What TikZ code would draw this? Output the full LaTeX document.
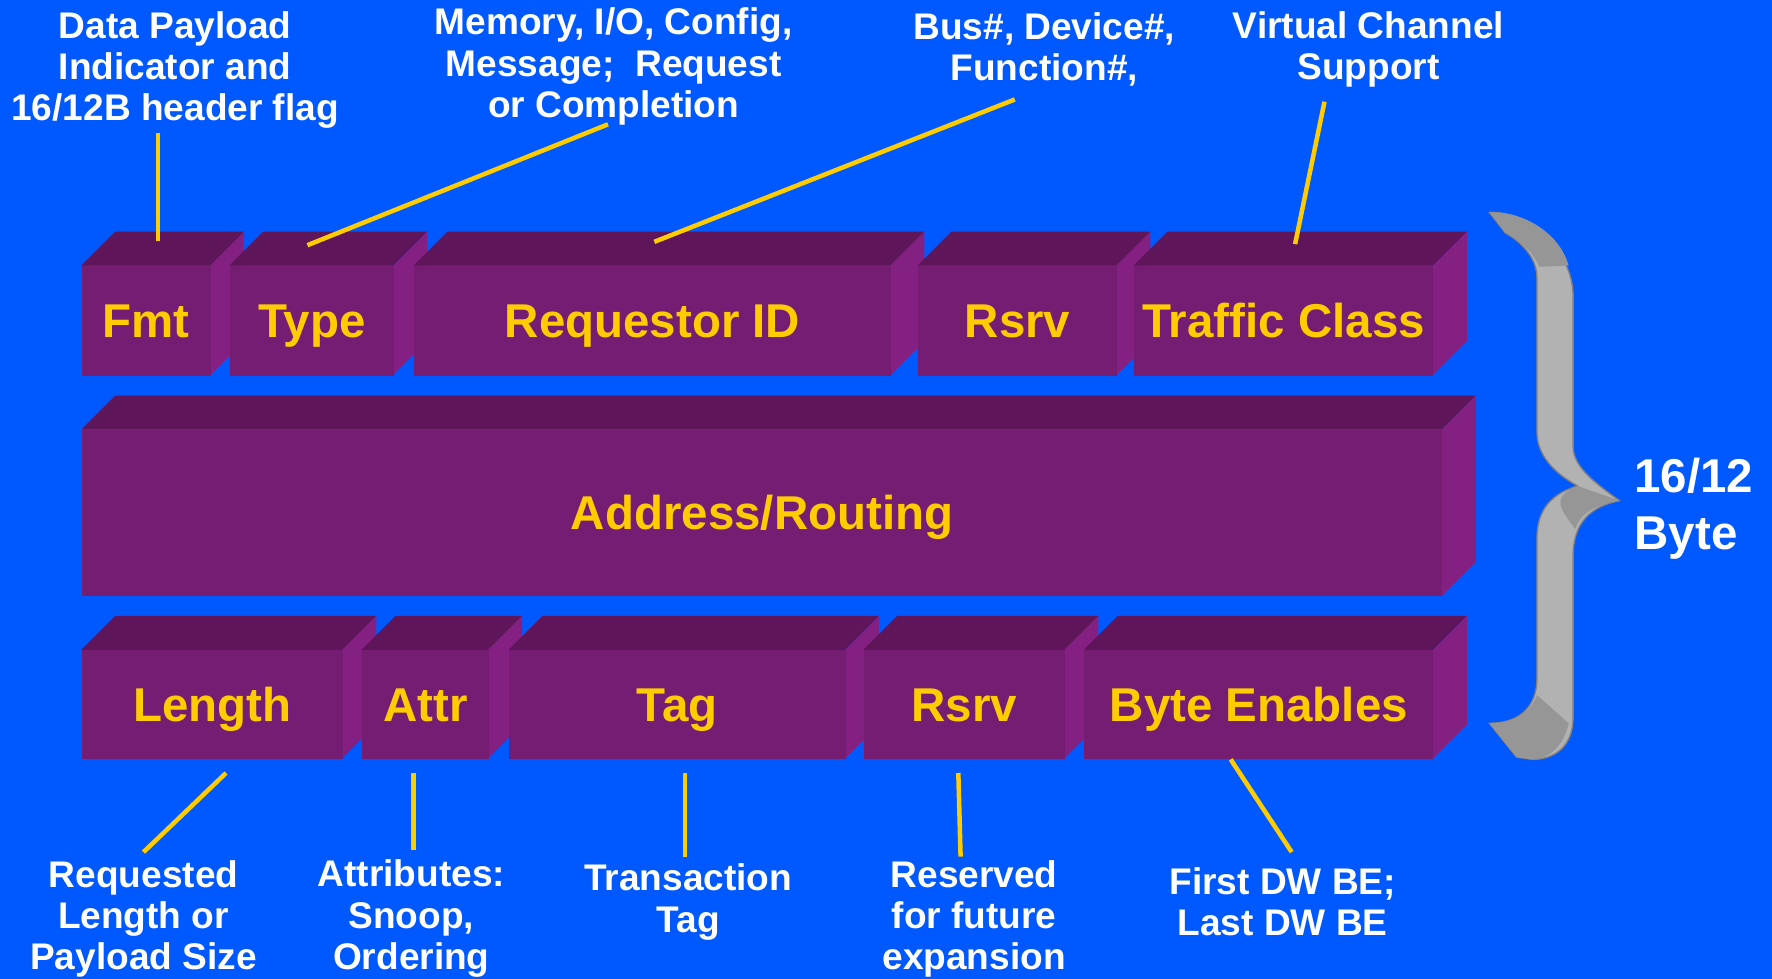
\documentclass[tikz,border=0pt]{standalone}
\usepackage{fontspec}
\setmainfont{Liberation Sans}
\definecolor{bgc}{RGB}{0,89,255}
\definecolor{frontc}{RGB}{117,29,115}
\definecolor{topc}{RGB}{94,21,90}
\definecolor{sidec}{RGB}{133,32,131}
\definecolor{txty}{RGB}{255,204,0}
\definecolor{leadc}{RGB}{255,204,0}
\definecolor{bracec}{RGB}{178,178,178}
\definecolor{braced}{RGB}{150,150,150}
\definecolor{bracee}{RGB}{128,128,128}
\newcommand\fieldfont{\bfseries\fontsize{21pt}{25pt}\selectfont}
\newcommand\lblfont{\bfseries\fontsize{16.4pt}{18.3pt}\selectfont}
\newcommand\bigfont{\bfseries\fontsize{21pt}{25.5pt}\selectfont}
% name, x1, x2, front top y, bottom y, text
\newcommand\blk[6]{%
  \fill[topc] (#2,#4) -- (#2+30,#4-30) -- (#3+30,#4-30) -- (#3,#4) -- cycle;
  \fill[sidec] (#3,#4) -- (#3+30,#4-30) -- (#3+30,#5-30) -- (#3,#5) -- cycle;
  \node[front, minimum width={(#3-#2)*0.5pt}, minimum height={(#5-#4)*0.5pt}, anchor=north west] (#1) at (#2,#4) {#6};
}
\begin{document}
\begin{tikzpicture}[x=0.5pt,y=-0.5pt,
  front/.style={fill=frontc, inner sep=0pt, text=txty, font=\fieldfont, text height=15pt, text depth=0pt},
  lbl/.style={text=white, align=center, font=\lblfont, inner sep=0pt},
  lead/.style={draw=leadc, line width=2pt},
]
\useasboundingbox (0,0) rectangle (1568,866);
\fill[bgc] (0,0) rectangle (1568,866);

% top row
\blk{fmt}{72}{186}{235}{332}{Fmt}
\blk{type}{203}{348}{235}{332}{Type}
\blk{reqid}{366}{788}{235}{332}{Requestor ID}
\blk{rsrvA}{812}{988}{235}{332}{Rsrv}
\blk{tc}{1003}{1268}{235}{332}{Traffic Class}
% middle row
\blk{addr}{72}{1276}{380}{527}{Address/Routing}
% bottom row
\blk{len}{72}{303}{575}{671}{Length}
\blk{attr}{320}{432}{575}{671}{Attr}
\blk{tag}{450}{748}{575}{671}{Tag}
\blk{rsrvB}{764}{942}{575}{671}{Rsrv}
\blk{be}{959}{1268}{575}{671}{Byte Enables}

% brace
\fill[bracec, draw=bracee, line width=0.6pt]
  (1318,188) .. controls (1345,186) and (1392,218) .. (1392,262)
  -- (1392,395) .. controls (1392,412) and (1408,425) .. (1433,443)
  .. controls (1408,448) and (1392,462) .. (1392,492)
  -- (1392,635) .. controls (1392,660) and (1376,672) .. (1356,672)
  -- (1342,670) -- (1318,640)
  .. controls (1345,640) and (1360,625) .. (1360,600)
  -- (1360,476) .. controls (1360,452) and (1372,437) .. (1396,430)
  .. controls (1374,418) and (1360,402) .. (1360,382)
  -- (1360,246) .. controls (1360,228) and (1346,214) .. (1332,206)
  -- cycle;
\fill[braced] (1318,188) .. controls (1345,186) and (1380,205) .. (1388,235)
  -- (1362,236) .. controls (1356,222) and (1345,213) .. (1332,206) -- cycle;
\fill[braced] (1396,430) -- (1433,443) .. controls (1410,447) and (1398,455) .. (1394,468)
  .. controls (1380,450) and (1372,440) .. (1396,430) -- cycle;
\fill[braced] (1318,640) .. controls (1340,640) and (1355,630) .. (1360,615)
  -- (1388,640) .. controls (1384,660) and (1370,672) .. (1356,672)
  -- (1342,670) -- cycle;

% labels
\node[lbl] (ltop1) at (155,62) {Data Payload\\Indicator and\\16/12B header flag};
\node[lbl] (ltop2) at (543,59) {Memory, I/O, Config,\\Message;\ \ Request\\or Completion};
\node[lbl] (ltop3) at (924,44) {Bus\#, Device\#,\\Function\#,};
\node[lbl] (ltop4) at (1211,44) {Virtual Channel\\Support};
\node[lbl] (lbot1) at (127,813) {Requested\\Length or\\Payload Size};
\node[lbl] (lbot2) at (364,813) {Attributes:\\Snoop,\\Ordering};
\node[lbl] (lbot3) at (609,798) {Transaction\\Tag};
\node[lbl] (lbot4) at (862,813) {Reserved\\for future\\expansion};
\node[lbl] (lbot5) at (1135,798) {First DW BE;\\Last DW BE};
\node[text=white, align=left, font=\bigfont, inner sep=0pt, anchor=west] (bytes) at (1446,450) {16/12\\Byte};

% leaders
\coordinate (a1) at (140,118); \coordinate (b1) at (140,213);
\coordinate (a2) at (538,110); \coordinate (b2) at (272,217);
\coordinate (a3) at (898,88);  \coordinate (b3) at (579,214);
\coordinate (a4) at (1172,90); \coordinate (b4) at (1146,216);
\coordinate (a5) at (127,754); \coordinate (b5) at (200,684);
\coordinate (a6) at (366,752); \coordinate (b6) at (366,684);
\coordinate (a7) at (606,758); \coordinate (b7) at (606,684);
\coordinate (a8) at (850,758); \coordinate (b8) at (848,684);
\coordinate (a9) at (1143,754); \coordinate (b9) at (1089,672);
\foreach \i in {1,...,9} { \draw[lead] (a\i) -- (b\i); }
\end{tikzpicture}
\end{document}
